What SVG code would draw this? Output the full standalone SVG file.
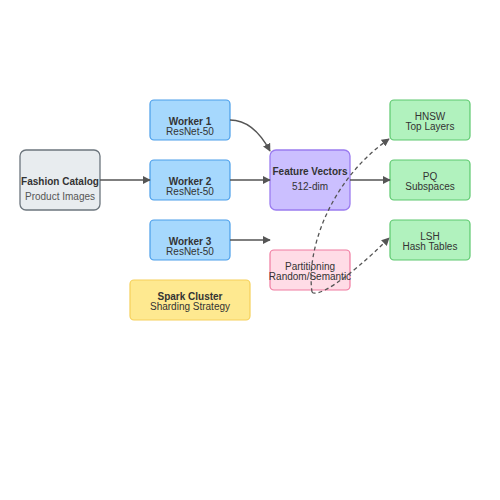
<svg xmlns="http://www.w3.org/2000/svg" width="500" height="500" viewBox="0 0 500 500">
<style>
text{font-family:"Liberation Sans",Arial,sans-serif;font-size:10px;fill:#333;text-anchor:middle}
.b{font-weight:bold}
.e{stroke:#555;stroke-width:1.3;fill:none}
.d{stroke-dasharray:4,3}
</style>
<defs>
<marker id="a" viewBox="0 0 10 10" refX="9" refY="5" markerWidth="8" markerHeight="8" markerUnits="userSpaceOnUse" orient="auto">
<path d="M0,0 L10,5 L0,10 z" fill="#555"/>
</marker>
</defs>
<rect width="500" height="500" fill="#fff"/>
<g id="catalog">
<rect x="20" y="150" width="80" height="60" rx="6" fill="#e8ecef" stroke="#6c757d" stroke-width="1.3"/>
<text x="60" y="185" class="b">Fashion Catalog</text>
<text x="60" y="200" style="fill:#555">Product Images</text>
</g>
<g id="worker1">
<rect x="150" y="100" width="80" height="40" rx="4" fill="#a6d8fd" stroke="#4a9eea" stroke-width="1.2"/>
<text x="190" y="125" class="b">Worker 1</text>
<text x="190" y="135">ResNet-50</text>
</g>
<g id="worker2">
<rect x="150" y="160" width="80" height="40" rx="4" fill="#a6d8fd" stroke="#4a9eea" stroke-width="1.2"/>
<text x="190" y="185" class="b">Worker 2</text>
<text x="190" y="195">ResNet-50</text>
</g>
<g id="worker3">
<rect x="150" y="220" width="80" height="40" rx="4" fill="#a6d8fd" stroke="#4a9eea" stroke-width="1.2"/>
<text x="190" y="245" class="b">Worker 3</text>
<text x="190" y="255">ResNet-50</text>
</g>
<g id="features">
<rect x="270" y="150" width="80" height="60" rx="6" fill="#cbbfff" stroke="#9b7cf0" stroke-width="1.3"/>
<text x="310" y="175" class="b">Feature Vectors</text>
<text x="310" y="190">512-dim</text>
</g>
<g id="partitioning">
<rect x="270" y="250" width="80" height="40" rx="4" fill="#ffdce6" stroke="#f07aa0" stroke-width="1.2"/>
<text x="310" y="270">Partitioning</text>
<text x="310" y="280">Random/Semantic</text>
</g>
<g id="spark">
<rect x="130" y="280" width="120" height="40" rx="4" fill="#fee990" stroke="#f5d05a" stroke-width="1.2"/>
<text x="190" y="300" class="b">Spark Cluster</text>
<text x="190" y="310">Sharding Strategy</text>
</g>
<g id="hnsw">
<rect x="390" y="100" width="80" height="40" rx="4" fill="#b1f2be" stroke="#5cc86e" stroke-width="1.2"/>
<text x="430" y="120">HNSW</text>
<text x="430" y="130">Top Layers</text>
</g>
<g id="pq">
<rect x="390" y="160" width="80" height="40" rx="4" fill="#b1f2be" stroke="#5cc86e" stroke-width="1.2"/>
<text x="430" y="180">PQ</text>
<text x="430" y="190">Subspaces</text>
</g>
<g id="lsh">
<rect x="390" y="220" width="80" height="40" rx="4" fill="#b1f2be" stroke="#5cc86e" stroke-width="1.2"/>
<text x="430" y="240">LSH</text>
<text x="430" y="250">Hash Tables</text>
</g>
<g id="connectors">
<path class="e" d="M100,180 L150,180" marker-end="url(#a)"/>
<path class="e" d="M230,120 C250,120 262,136 270,151" marker-end="url(#a)"/>
<path class="e" d="M230,180 L270,180" marker-end="url(#a)"/>
<path class="e" d="M230,240 L270,240" marker-end="url(#a)"/>
<path class="e" d="M350,180 L390,180" marker-end="url(#a)"/>
<path class="e d" d="M312,292 C306,250 330,180 389,139" marker-end="url(#a)"/>
<path class="e d" d="M312,292 C316,298 345,282 389,238" marker-end="url(#a)"/>
</g>
</svg>
